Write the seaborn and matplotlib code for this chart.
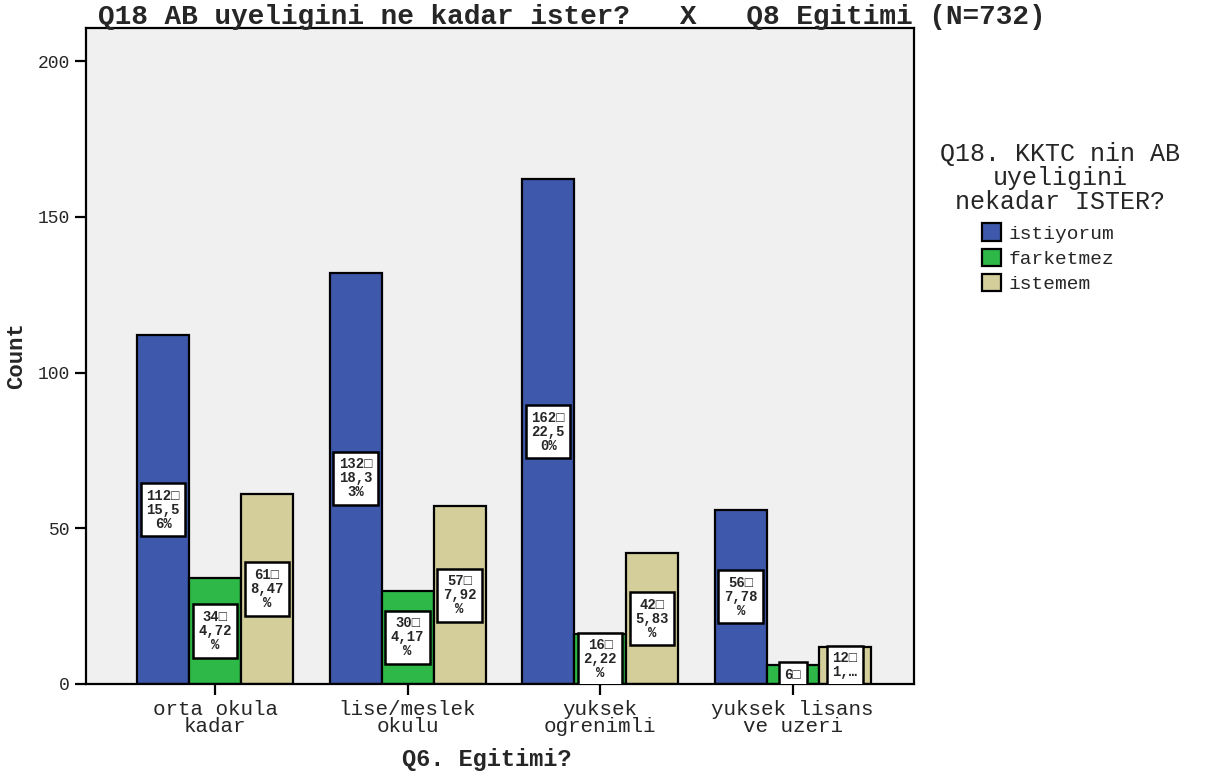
import pandas as pd
import matplotlib.pyplot as plt
import seaborn as sns

# Data
education = ['orta okula\nkadar', 'lise/meslek\nokulu', 'yuksek\nogrenimli', 'yuksek lisans\nve uzeri']
responses = ['istiyorum', 'farketmez', 'istemem']
istiyorum = [112, 132, 162, 56]
farketmez = [34, 30, 16, 6]
istemem = [61, 57, 42, 12]

# cell labels as shown inside the bars (count + percent of N)
lbl_istiyorum = ['112\u25a1\n15,5\n6%', '132\u25a1\n18,3\n3%', '162\u25a1\n22,5\n0%', '56\u25a1\n7,78\n%']
lbl_farketmez = ['34\u25a1\n4,72\n%', '30\u25a1\n4,17\n%', '16\u25a1\n2,22\n%', '6\u25a1']
lbl_istemem = ['61\u25a1\n8,47\n%', '57\u25a1\n7,92\n%', '42\u25a1\n5,83\n%', '12\u25a1\n1,\u2026']

colors = ['#3e58ac', '#2eb848', '#d3ce9a']

df = pd.DataFrame({
    'edu': education * 3,
    'resp': [r for r in responses for _ in education],
    'count': istiyorum + farketmez + istemem,
})
labels = [lbl_istiyorum, lbl_farketmez, lbl_istemem]

sns.set_theme(style='white')
plt.rcParams['font.family'] = ['Liberation Mono', 'DejaVu Sans Mono']

fig = plt.figure(figsize=(12.05, 7.78), dpi=100)
ax = fig.add_axes([86 / 1205, 94 / 778, 828 / 1205, 656 / 778])
ax.set_facecolor('#f0f0f0')

sns.barplot(data=df, x='edu', y='count', hue='resp', hue_order=responses,
            palette=colors, saturation=1, width=0.81, edgecolor='black',
            linewidth=1.6, ax=ax)

# value boxes centred in each bar
for cont, labs in zip(ax.containers, labels):
    for bar, txt in zip(cont, labs):
        x = bar.get_x() + bar.get_width() / 2
        y = bar.get_height() / 2
        ax.text(x, y, txt, ha='center', va='center', fontsize=10,
                fontweight='bold', linespacing=1.0, clip_on=True,
                bbox=dict(boxstyle='square,pad=0.4', fc='white', ec='black', lw=1.8))

ax.set_ylim(0, 210.6)
ax.set_xlim(-0.67, 3.63)
ax.set_yticks([0, 50, 100, 150, 200])
ax.tick_params(axis='both', direction='out', length=8, width=1.6, color='black')
ax.tick_params(axis='y', labelsize=13, left=True)
ax.tick_params(axis='x', labelsize=15, bottom=True)
for lab in ax.get_xticklabels():
    lab.set_linespacing(0.9)
for s in ax.spines.values():
    s.set_color('black')
    s.set_linewidth(1.6)

ax.set_xlabel('Q6. Egitimi?', fontsize=17, fontweight='bold')
ax.xaxis.set_label_coords((487 - 86) / 828, -0.098)
ax.set_ylabel('Count', fontsize=16, fontweight='bold', labelpad=8)

# legend title drawn separately so its lines centre over the entries
fig.text(1060 / 1205, 1 - 178 / 778, 'Q18. KKTC nin AB\nuyeligini\nnekadar ISTER?',
         ha='center', va='center', multialignment='center', fontsize=18, linespacing=1.0)
handles, labs = ax.get_legend_handles_labels()
ax.legend(handles, labs, loc='upper center', bbox_to_anchor=(1048 / 1205, 1 - 206 / 778),
          bbox_transform=fig.transFigure, frameon=False, fontsize=14,
          handlelength=1.0, handleheight=1.0, labelspacing=0.3, handletextpad=0.4)
for h in ax.get_legend().legend_handles:
    h.set_edgecolor('black')
    h.set_linewidth(1.6)

fig.text(572 / 1205, 1 - 24 / 778, 'Q18 AB uyeligini ne kadar ister?   X   Q8 Egitimi (N=732)',
         ha='center', va='baseline', fontsize=20, fontweight='bold')

fig.savefig('out.png', dpi=100)
